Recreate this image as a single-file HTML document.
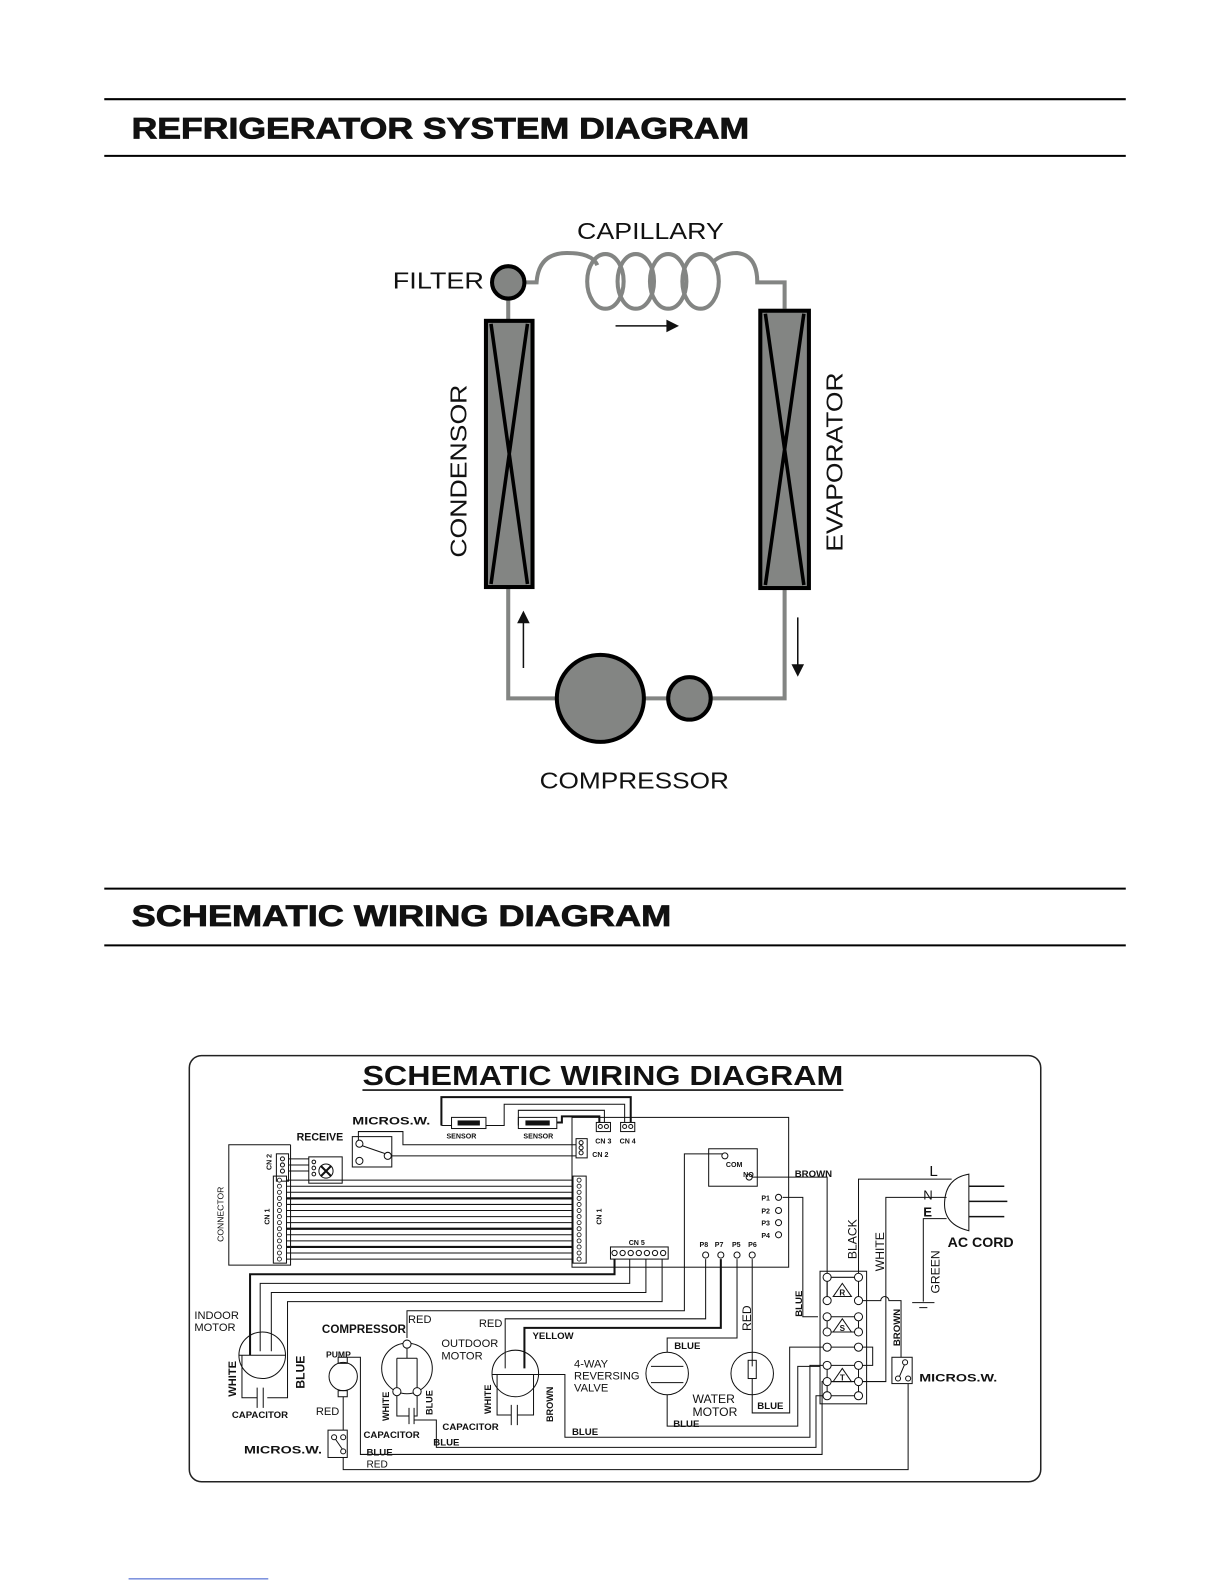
<!DOCTYPE html>
<html><head><meta charset="utf-8"><style>
html,body{margin:0;padding:0;background:#fff;}
svg{display:block;}
text{font-family:"Liberation Sans",Arial,sans-serif;fill:#111;}
.b{font-weight:bold;}
</style></head><body>
<svg width="1225" height="1585" viewBox="0 0 1210 1566" preserveAspectRatio="none" xmlns="http://www.w3.org/2000/svg">
<rect width="1210" height="1566" fill="#fff"/>
<!-- Headers -->
<line x1="103" y1="98" x2="1112" y2="98" stroke="#000" stroke-width="2"/>
<line x1="103" y1="154" x2="1112" y2="154" stroke="#000" stroke-width="2"/>
<text x="130" y="137" class="b" font-size="29" textLength="610" lengthAdjust="spacingAndGlyphs" stroke="#111" stroke-width="0.8">REFRIGERATOR SYSTEM DIAGRAM</text>
<line x1="103" y1="878" x2="1112" y2="878" stroke="#000" stroke-width="2"/>
<line x1="103" y1="934" x2="1112" y2="934" stroke="#000" stroke-width="2"/>
<text x="130" y="915" class="b" font-size="29" textLength="533" lengthAdjust="spacingAndGlyphs" stroke="#111" stroke-width="0.8">SCHEMATIC WIRING DIAGRAM</text>

<!-- Refrigerator system -->
<g fill="none" stroke="#838583" stroke-width="4">
<path d="M502 296 V316"/>
<path d="M519 279 H530 Q532 250 560 250 Q585 250 590 262"/>
<ellipse cx="598" cy="278" rx="18" ry="27"/>
<ellipse cx="628" cy="278" rx="18" ry="27"/>
<ellipse cx="660" cy="278" rx="18" ry="27"/>
<ellipse cx="692" cy="278" rx="18" ry="27"/>
<path d="M705 258 Q715 250 728 250 Q748 252 748 279 H775 V305"/>
<path d="M502 580 V690 H550"/>
<path d="M636 690 H660"/>
<path d="M703 690 H775 V582"/>
</g>
<circle cx="502" cy="279" r="16" fill="#838583" stroke="#000" stroke-width="4"/>
<rect x="480" y="317" width="46" height="263" fill="#838583" stroke="#000" stroke-width="4"/>
<path d="M485 320 L521 577 M521 320 L485 577" stroke="#000" stroke-width="3.5"/>
<rect x="751" y="307" width="48" height="274" fill="#838583" stroke="#000" stroke-width="4"/>
<path d="M756 310 L794 578 M794 310 L756 578" stroke="#000" stroke-width="3.5"/>
<circle cx="593" cy="690" r="43" fill="#838583" stroke="#000" stroke-width="4"/>
<circle cx="681" cy="690" r="21" fill="#838583" stroke="#000" stroke-width="4"/>
<g stroke="#111" stroke-width="1.5" fill="#111">
<line x1="608" y1="322" x2="660" y2="322"/><path d="M669 322 L659 317 L659 327Z"/>
<line x1="517" y1="660" x2="517" y2="614"/><path d="M517 605 L512 615 L522 615Z"/>
<line x1="788" y1="610" x2="788" y2="658"/><path d="M788 667 L783 657 L793 657Z"/>
</g>
<text x="570" y="236" font-size="23" textLength="145" lengthAdjust="spacingAndGlyphs">CAPILLARY</text>
<text x="388" y="285" font-size="23" textLength="90" lengthAdjust="spacingAndGlyphs">FILTER</text>
<text transform="translate(461,551) rotate(-90)" font-size="23" textLength="171" lengthAdjust="spacingAndGlyphs">CONDENSOR</text>
<text transform="translate(832,545) rotate(-90)" font-size="23" textLength="177" lengthAdjust="spacingAndGlyphs">EVAPORATOR</text>
<text x="533" y="779" font-size="23" textLength="187" lengthAdjust="spacingAndGlyphs">COMPRESSOR</text>

<!-- Wiring box -->
<rect x="187" y="1043" width="841" height="421" rx="12" fill="none" stroke="#222" stroke-width="1.5"/>
<text x="358" y="1072" class="b" font-size="27" textLength="475" lengthAdjust="spacingAndGlyphs">SCHEMATIC  WIRING  DIAGRAM</text>
<line x1="358" y1="1077" x2="833" y2="1077" stroke="#111" stroke-width="1.5"/>

<g fill="none" stroke="#111" stroke-width="1">
<!-- board -->
<rect x="565" y="1104" width="214" height="148"/>
<!-- sensor wires -->
<path d="M436 1112 V1084 H623 V1109" stroke-width="2"/>
<path d="M436 1112 H446"/>
<path d="M480 1112 H498 V1091 H617 V1109"/>
<path d="M512 1112 V1097 H597 V1109"/>
<path d="M550 1109 H555 V1103 H592 V1109" stroke-width="2"/>
<rect x="446" y="1104" width="34" height="11"/>
<rect x="512" y="1104" width="38" height="11"/>
<rect x="589" y="1109" width="14" height="9"/>
<rect x="613" y="1109" width="14" height="9"/>
<rect x="569" y="1125" width="11" height="19"/>
<!-- micro switch top -->
<rect x="348" y="1123" width="39" height="30"/>
<path d="M354 1128 V1118 H398 V1131 H569"/>
<path d="M355 1131 L381 1140"/>
<path d="M385 1142 H569"/>
<!-- receive -->
<rect x="305" y="1143" width="33" height="26"/>
<rect x="273" y="1140" width="12" height="27"/>
<path d="M285 1145 H305 M285 1151 H305 M285 1157 H305"/>
<!-- connector bracket -->
<path d="M287 1131 H226 V1250 H287 V1131"/>
<rect x="270" y="1162" width="13" height="86"/>
<rect x="566" y="1162" width="13" height="86"/>
<!-- relay -->
<rect x="700" y="1135" width="48" height="37"/>
<path d="M716 1140 H676 V1295 H402 V1322"/>
<path d="M742 1163 H817 V1285"/>
<path d="M773 1183 H793 V1301 H808"/>
<!-- CN5 -->
<rect x="603" y="1232" width="57" height="12"/>
<!-- CN5 wires to indoor motor -->
<path d="M607 1244 V1259 H247 V1339" stroke-width="2"/>
<path d="M622 1244 V1268 H257 V1335"/>
<path d="M638 1244 V1277 H268 V1335"/>
<path d="M654 1244 V1286 H284 V1381 H264"/>
<!-- P pins -->
<path d="M697 1244 V1303 H499 V1352"/>
<path d="M712 1244 V1312 H518 V1352" stroke-width="2"/>
<path d="M728 1244 V1322 H659 V1336"/>
<path d="M743 1244 V1350"/>
<!-- indoor motor -->
<circle cx="259" cy="1339" r="23"/>
<path d="M236 1339 H282"/>
<path d="M239 1339 V1381 H254 M254 1371 V1391 M260 1371 V1391"/>
<!-- compressor -->
<circle cx="402" cy="1352" r="25"/>
<circle cx="402" cy="1328" r="4" fill="#fff"/>
<path d="M402 1332 V1342 M392 1342 H412 M392 1342 V1372 M412 1342 V1372"/>
<circle cx="392" cy="1375" r="4" fill="#fff"/>
<circle cx="412" cy="1375" r="4" fill="#fff"/>
<path d="M392 1379 V1399 H404 M404 1391 V1407 M409 1391 V1407 M409 1399 H412 V1379"/>
<path d="M409 1403 H431 V1430 H806 V1379 H817"/>
<!-- pump -->
<ellipse cx="339" cy="1360" rx="14" ry="14"/>
<rect x="334" y="1341" width="9" height="6"/>
<rect x="334" y="1374" width="9" height="6"/>
<path d="M343 1341 H356 V1437 H812 V1365 H817"/>
<path d="M339 1380 V1413"/>
<rect x="324" y="1413" width="19" height="27"/>
<path d="M330 1420 L339 1433"/>
<path d="M339 1440 V1452 H897 V1367"/>
<!-- outdoor motor -->
<circle cx="509" cy="1357" r="23"/>
<path d="M486 1358 H558 V1420 H800 V1349 H817"/>
<path d="M491 1358 V1398 H505 M505 1388 V1408 M511 1388 V1408 M511 1398 H527 V1358"/>
<!-- 4-way valve -->
<circle cx="659" cy="1357" r="21"/>
<path d="M643 1350 H675 M643 1366 H675"/>
<path d="M659 1378 V1409 H788 V1350 H810"/>
<!-- water motor -->
<circle cx="743" cy="1357" r="21"/>
<rect x="739" y="1344" width="8" height="18"/>
<path d="M743 1362 V1396 H780 V1331 H817"/>
<!-- terminal block -->
<rect x="810" y="1256" width="46" height="131"/>
<path d="M821 1262 H844 M817 1266 V1281 M848 1266 V1281 M821 1301 H844 M821 1316 H844 M817 1305 V1312 M848 1305 V1312 M821 1331 H844 M821 1349 H844 M821 1365 H844 M821 1379 H844 M817 1353 V1361 M848 1353 V1361 M817 1369 V1375 M848 1369 V1375"/>
<path d="M852 1285 H870 A4 4 0 0 1 878 1285 H890 V1341"/>
<path d="M852 1331 H862 V1349 H852"/>
<path d="M852 1365 H875 V1183 H935"/>
<path d="M852 1379 H872 V1452 H897" stroke-width="0"/>
<path d="M848 1258 V1165 H940"/>
<path d="M935 1204 H912 V1286"/>
<path d="M901 1287 H923 M908 1292 H916"/>
<!-- micro switch right -->
<rect x="881" y="1341" width="20" height="26"/>
<path d="M888 1361 L894 1347"/>
<!-- plug -->
<path d="M957 1160 V1216 Q932 1210 933 1188 Q934 1164 957 1160Z"/>
<path d="M957 1172 H992 M957 1187 H995 M957 1202 H992" stroke-width="1.5"/>
</g>
<!-- terminal circles -->
<g fill="#fff" stroke="#111" stroke-width="1">
<circle cx="817" cy="1262" r="4"/><circle cx="848" cy="1262" r="4"/>
<circle cx="817" cy="1285" r="4"/><circle cx="848" cy="1285" r="4"/>
<circle cx="817" cy="1301" r="4"/><circle cx="848" cy="1301" r="4"/>
<circle cx="817" cy="1316" r="4"/><circle cx="848" cy="1316" r="4"/>
<circle cx="817" cy="1331" r="4"/><circle cx="848" cy="1331" r="4"/>
<circle cx="817" cy="1349" r="4"/><circle cx="848" cy="1349" r="4"/>
<circle cx="817" cy="1365" r="4"/><circle cx="848" cy="1365" r="4"/>
<circle cx="817" cy="1379" r="4"/><circle cx="848" cy="1379" r="4"/>
<circle cx="355" cy="1130" r="3.5"/><circle cx="383" cy="1142" r="3.5"/><circle cx="355" cy="1147" r="3.5"/>
<circle cx="322" cy="1157" r="7"/>
<circle cx="716" cy="1142" r="3"/><circle cx="740" cy="1163" r="3"/>
<circle cx="769" cy="1183" r="3"/><circle cx="769" cy="1196" r="3"/><circle cx="769" cy="1208" r="3"/><circle cx="769" cy="1220" r="3"/>
<circle cx="697" cy="1240" r="3"/><circle cx="712" cy="1240" r="3"/><circle cx="728" cy="1240" r="3"/><circle cx="743" cy="1240" r="3"/>
<circle cx="607" cy="1238" r="2.6"/><circle cx="615" cy="1238" r="2.6"/><circle cx="623" cy="1238" r="2.6"/><circle cx="631" cy="1238" r="2.6"/><circle cx="639" cy="1238" r="2.6"/><circle cx="647" cy="1238" r="2.6"/><circle cx="655" cy="1238" r="2.6"/>
<circle cx="593" cy="1113" r="2"/><circle cx="599" cy="1113" r="2"/><circle cx="617" cy="1113" r="2"/><circle cx="623" cy="1113" r="2"/>
<circle cx="574" cy="1129" r="2"/><circle cx="574" cy="1134" r="2"/><circle cx="574" cy="1139" r="2"/>
<circle cx="279" cy="1145" r="2"/><circle cx="279" cy="1151" r="2"/><circle cx="279" cy="1157" r="2"/>
<circle cx="310" cy="1148" r="1.8"/><circle cx="310" cy="1154" r="1.8"/><circle cx="310" cy="1160" r="1.8"/>
<circle cx="330" cy="1420" r="2.5"/><circle cx="339" cy="1420" r="2.5"/><circle cx="339" cy="1434" r="2.5"/>
<circle cx="894" cy="1346" r="2.5"/><circle cx="887" cy="1362" r="2.5"/><circle cx="897" cy="1362" r="2.5"/>
</g>
<path d="M317 1152 L327 1162 M327 1152 L317 1162" stroke="#111" stroke-width="2"/>
<rect x="452" y="1107" width="22" height="5" fill="#111"/>
<rect x="519" y="1107" width="24" height="5" fill="#111"/>
<!-- connector parallel wires -->
<g stroke="#111" stroke-width="1">
<path d="M283 1166 H566 M283 1172 H566 M283 1178 H566 M283 1184 H566 M283 1190 H566 M283 1196 H566 M283 1202 H566 M283 1208 H566 M283 1214 H566 M283 1220 H566 M283 1226 H566 M283 1232 H566 M283 1238 H566 M283 1244 H566"/>
<path d="M283 1184 H566 M283 1214 H566 M283 1232 H566" stroke-width="2.2"/>
</g>
<g fill="#fff" stroke="#111" stroke-width="0.8">
<circle cx="276" cy="1166" r="2"/><circle cx="276" cy="1172" r="2"/><circle cx="276" cy="1178" r="2"/><circle cx="276" cy="1184" r="2"/><circle cx="276" cy="1190" r="2"/><circle cx="276" cy="1196" r="2"/><circle cx="276" cy="1202" r="2"/><circle cx="276" cy="1208" r="2"/><circle cx="276" cy="1214" r="2"/><circle cx="276" cy="1220" r="2"/><circle cx="276" cy="1226" r="2"/><circle cx="276" cy="1232" r="2"/><circle cx="276" cy="1238" r="2"/><circle cx="276" cy="1244" r="2"/>
<circle cx="572" cy="1166" r="2"/><circle cx="572" cy="1172" r="2"/><circle cx="572" cy="1178" r="2"/><circle cx="572" cy="1184" r="2"/><circle cx="572" cy="1190" r="2"/><circle cx="572" cy="1196" r="2"/><circle cx="572" cy="1202" r="2"/><circle cx="572" cy="1208" r="2"/><circle cx="572" cy="1214" r="2"/><circle cx="572" cy="1220" r="2"/><circle cx="572" cy="1226" r="2"/><circle cx="572" cy="1232" r="2"/><circle cx="572" cy="1238" r="2"/><circle cx="572" cy="1244" r="2"/>
</g>
<!-- triangles -->
<g fill="none" stroke="#111" stroke-width="1">
<path d="M832 1268 L841 1281 H823Z"/><path d="M832 1303 L841 1316 H823Z"/><path d="M832 1352 L841 1365 H823Z"/>
</g>
<g font-size="8" class="b" text-anchor="middle">
<text x="832" y="1280">R</text><text x="832" y="1315">S</text><text x="832" y="1364">T</text>
</g>

<!-- labels -->
<g class="b" font-size="7">
<text x="441" y="1125">SENSOR</text><text x="517" y="1125">SENSOR</text>
<text x="588" y="1130">CN 3</text><text x="612" y="1130">CN 4</text>
<text x="585" y="1143">CN 2</text>
<text x="717" y="1153">COM</text><text x="734" y="1163">NO</text>
<text x="752" y="1186">P1</text><text x="752" y="1199">P2</text><text x="752" y="1211">P3</text><text x="752" y="1223">P4</text>
<text x="691" y="1232">P8</text><text x="706" y="1232">P7</text><text x="723" y="1232">P5</text><text x="739" y="1232">P6</text>
<text x="621" y="1230">CN 5</text>
<text transform="translate(266,1210) rotate(-90)">CN 1</text>
<text transform="translate(268,1156) rotate(-90)">CN 2</text>
<text transform="translate(594,1210) rotate(-90)">CN 1</text>
</g>
<text transform="translate(221,1227) rotate(-90)" font-size="8.5">CONNECTOR</text>
<text x="348" y="1111" class="b" font-size="11" textLength="77" lengthAdjust="spacingAndGlyphs">MICROS.W.</text>
<text x="293" y="1127" font-size="11" class="b" textLength="46" lengthAdjust="spacingAndGlyphs">RECEIVE</text>
<text x="785" y="1163" class="b" font-size="9.5">BROWN</text>
<text x="918" y="1162" font-size="15">L</text>
<text x="912" y="1185" font-size="13">N</text>
<text x="912" y="1202" font-size="13" class="b">E</text>
<text x="936" y="1232" class="b" font-size="14">AC CORD</text>
<text transform="translate(846,1244) rotate(-90)" font-size="12">BLACK</text>
<text transform="translate(873,1256) rotate(-90)" font-size="12">WHITE</text>
<text transform="translate(928,1278) rotate(-90)" font-size="12">GREEN</text>
<text transform="translate(742,1315) rotate(-90)" font-size="12">RED</text>
<text transform="translate(792,1301) rotate(-90)" class="b" font-size="9.5">BLUE</text>
<text transform="translate(889,1330) rotate(-90)" class="b" font-size="9.5">BROWN</text>
<text x="908" y="1365" class="b" font-size="11" textLength="77" lengthAdjust="spacingAndGlyphs">MICROS.W.</text>
<text x="192" y="1303" font-size="11">INDOOR</text>
<text x="192" y="1315" font-size="11">MOTOR</text>
<text transform="translate(233,1380) rotate(-90)" class="b" font-size="11">WHITE</text>
<text transform="translate(301,1372) rotate(-90)" class="b" font-size="12">BLUE</text>
<text x="229" y="1401" class="b" font-size="9.5">CAPACITOR</text>
<text x="318" y="1317" class="b" font-size="11.5">COMPRESSOR</text>
<text x="403" y="1307" font-size="11">RED</text>
<text x="322" y="1341" class="b" font-size="8.5">PUMP</text>
<text x="312" y="1398" font-size="11">RED</text>
<text x="241" y="1436" class="b" font-size="11" textLength="77" lengthAdjust="spacingAndGlyphs">MICROS.W.</text>
<text transform="translate(384,1404) rotate(-90)" class="b" font-size="9">WHITE</text>
<text transform="translate(427,1398) rotate(-90)" class="b" font-size="9">BLUE</text>
<text x="359" y="1421" class="b" font-size="9.5">CAPACITOR</text>
<text x="428" y="1428" class="b" font-size="9.5">BLUE</text>
<text x="362" y="1438" class="b" font-size="9.5">BLUE</text>
<text x="362" y="1450" font-size="10">RED</text>
<text x="473" y="1311" font-size="11">RED</text>
<text x="526" y="1323" class="b" font-size="9.5">YELLOW</text>
<text x="436" y="1331" font-size="11">OUTDOOR</text>
<text x="436" y="1343" font-size="11">MOTOR</text>
<text transform="translate(485,1397) rotate(-90)" class="b" font-size="9">WHITE</text>
<text transform="translate(546,1405) rotate(-90)" class="b" font-size="9">BROWN</text>
<text x="437" y="1413" class="b" font-size="9.5">CAPACITOR</text>
<text x="565" y="1418" class="b" font-size="9.5">BLUE</text>
<text x="567" y="1351" font-size="11">4-WAY</text>
<text x="567" y="1363" font-size="11">REVERSING</text>
<text x="567" y="1375" font-size="11">VALVE</text>
<text x="666" y="1333" class="b" font-size="9.5">BLUE</text>
<text x="684" y="1386" font-size="12">WATER</text>
<text x="684" y="1399" font-size="12">MOTOR</text>
<text x="748" y="1392" class="b" font-size="9.5">BLUE</text>
<text x="665" y="1410" class="b" font-size="9.5">BLUE</text>

<line x1="127" y1="1560" x2="265" y2="1560" stroke="#3355cc" stroke-width="1"/>
</svg>
</body></html>
